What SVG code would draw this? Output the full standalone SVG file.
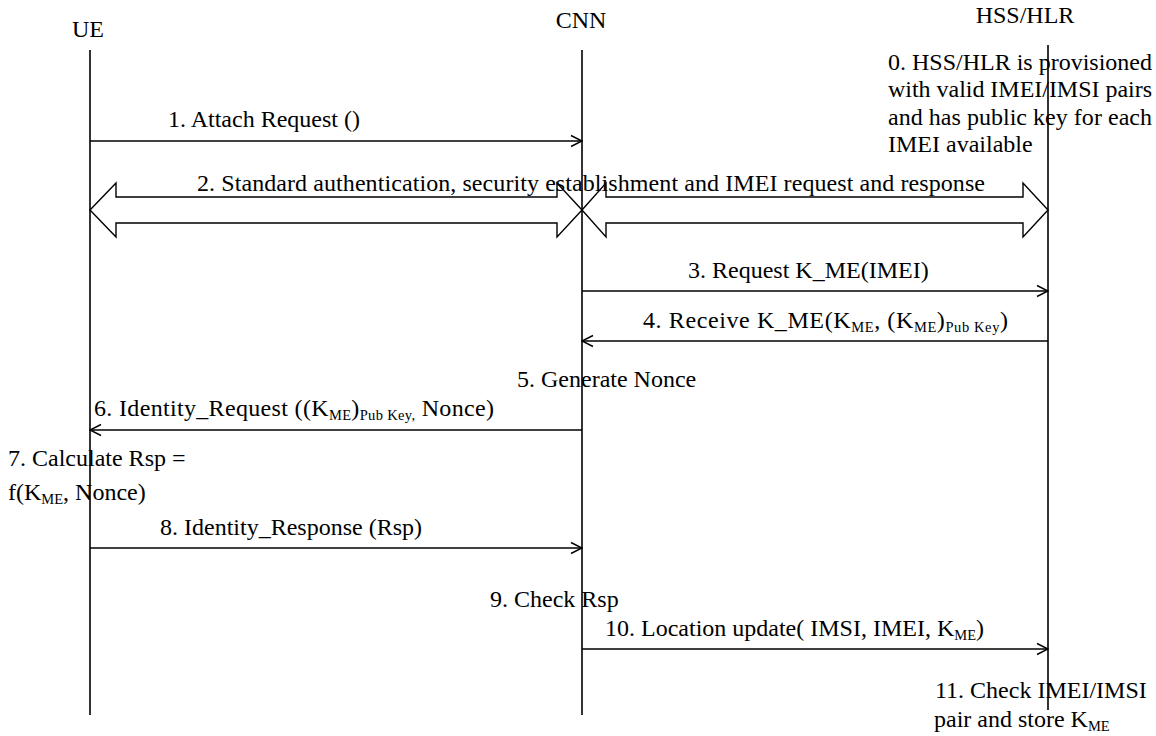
<svg xmlns="http://www.w3.org/2000/svg" width="1156" height="736" viewBox="0 0 1156 736">
<style>
text{font-family:"Liberation Serif","Times New Roman",serif;font-size:24px;fill:#000}
.sub{font-size:14.5px}
.life{stroke:#000;stroke-width:1.6;fill:none}
.msg{stroke:#000;stroke-width:1.4;fill:none}
.blk{stroke:#000;stroke-width:1.4;fill:#fff}
</style>
<defs>
<marker id="ah" markerWidth="13" markerHeight="14" refX="12" refY="7" orient="auto" markerUnits="userSpaceOnUse">
<path d="M1,1.5 L12,7 L1,12.5" fill="none" stroke="#000" stroke-width="1.4"/>
</marker>
</defs>
<rect width="1156" height="736" fill="#fff"/>
<g id="ue">
<text x="88" y="37" text-anchor="middle">UE</text>
<line class="life" x1="90" y1="50" x2="90" y2="715"/>
</g>
<g id="cnn">
<text x="581" y="28" text-anchor="middle">CNN</text>
<line class="life" x1="582" y1="50" x2="582" y2="715"/>
</g>
<g id="hss">
<text x="1025" y="23" text-anchor="middle">HSS/HLR</text>
<line class="life" x1="1048" y1="45" x2="1048" y2="710"/>
</g>
<g id="notes">
<text x="888" y="70">0. HSS/HLR is provisioned</text>
<text x="888" y="97" textLength="264" lengthAdjust="spacing">with valid IMEI/IMSI pairs</text>
<text x="888" y="125" textLength="264" lengthAdjust="spacing">and has public key for each</text>
<text x="888" y="152">IMEI available</text>
<text x="517" y="387">5. Generate Nonce</text>
<text x="8" y="466">7. Calculate Rsp =</text>
<text x="8" y="500">f(K<tspan class="sub" dy="4">ME</tspan><tspan dy="-4">, Nonce)</tspan></text>
<text x="490" y="607">9. Check Rsp</text>
<text x="935" y="698">11. Check IMEI/IMSI</text>
<text x="934" y="727">pair and store K<tspan class="sub" dy="4">ME</tspan></text>
</g>
<g id="connectors">
<line class="msg" x1="90" y1="141" x2="582" y2="141" marker-end="url(#ah)"/>
<text x="168" y="127">1. Attach Request ()</text>
<path class="blk" d="M90,210 L116,183 L116,197 L557,197 L557,183 L582,210 L557,237 L557,223 L116,223 L116,237 Z"/>
<path class="blk" d="M582,210 L606,183 L606,197 L1023,197 L1023,183 L1048,210 L1023,237 L1023,223 L606,223 L606,237 Z"/>
<text x="197" y="191" textLength="788" lengthAdjust="spacing">2. Standard authentication, security establishment and IMEI request and response</text>
<line class="msg" x1="582" y1="291" x2="1048" y2="291" marker-end="url(#ah)"/>
<text x="688" y="278">3. Request K_ME(IMEI)</text>
<line class="msg" x1="1048" y1="341" x2="582" y2="341" marker-end="url(#ah)"/>
<text x="643" y="328" textLength="365" lengthAdjust="spacing">4. Receive K_ME(K<tspan class="sub" dy="4">ME</tspan><tspan dy="-4">, (K</tspan><tspan class="sub" dy="4">ME</tspan><tspan dy="-4">)</tspan><tspan class="sub" dy="4">Pub Key</tspan><tspan dy="-4">)</tspan></text>
<line class="msg" x1="582" y1="430" x2="90" y2="430" marker-end="url(#ah)"/>
<text x="94" y="416" textLength="400" lengthAdjust="spacing">6. Identity_Request ((K<tspan class="sub" dy="4">ME</tspan><tspan dy="-4">)</tspan><tspan class="sub" dy="4">Pub Key,</tspan><tspan dy="-4"> Nonce)</tspan></text>
<line class="msg" x1="90" y1="548" x2="582" y2="548" marker-end="url(#ah)"/>
<text x="160" y="535">8. Identity_Response (Rsp)</text>
<line class="msg" x1="582" y1="649" x2="1048" y2="649" marker-end="url(#ah)"/>
<text x="605" y="636">10. Location update( IMSI, IMEI, K<tspan class="sub" dy="4">ME</tspan><tspan dy="-4">)</tspan></text>
</g>
</svg>
